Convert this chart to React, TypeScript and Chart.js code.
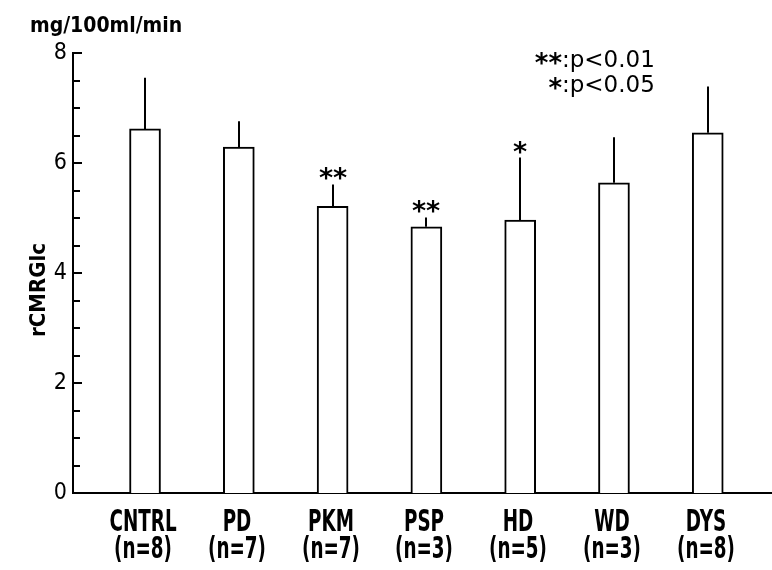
import React, { useEffect, useRef } from "react";
import { Chart, registerables } from "chart.js";

Chart.register(...registerables);

const groups = ["CNTRL", "PD", "PKM", "PSP", "HD", "WD", "DYS"];
const counts = ["(n=8)", "(n=7)", "(n=7)", "(n=3)", "(n=5)", "(n=3)", "(n=8)"];
const means = [6.62, 6.29, 5.21, 4.84, 4.96, 5.64, 6.55];
const sds = [0.93, 0.47, 0.4, 0.17, 1.14, 0.83, 0.84];
const marks = ["", "", "**", "**", "*", "", ""];
const yLabelTicks = [0, 2, 4, 6, 8];
const legendMarks = ["**", "*"];
const legendTexts = [":p<0.01", ":p<0.05"];
const unitText = "mg/100ml/min";
const yTitle = "rCMRGlc";

const CF = "'DejaVu Sans Condensed', 'DejaVu Sans', sans-serif";

function narrowText(ctx: any, text: string, x: number, y: number, font: string, sx: number) {
  ctx.save();
  ctx.font = font;
  ctx.translate(x, y);
  ctx.scale(sx, 1);
  ctx.textAlign = "center";
  ctx.textBaseline = "alphabetic";
  ctx.fillText(text, 0, 0);
  ctx.restore();
}

const extras = {
  id: "extras",
  afterDatasetsDraw(chart: any) {
    const ctx = chart.ctx;
    const xs = chart.scales.x;
    const ys = chart.scales.y;
    ctx.save();
    ctx.strokeStyle = "#000";
    ctx.fillStyle = "#000";
    ctx.lineWidth = 2;
    means.forEach((m, i) => {
      const x = Math.round(xs.getPixelForValue(i));
      const y1 = ys.getPixelForValue(m);
      const y2 = ys.getPixelForValue(m + sds[i]);
      ctx.beginPath();
      ctx.moveTo(x, y1);
      ctx.lineTo(x, y2);
      ctx.stroke();
      if (marks[i]) {
        ctx.font = "bold 27px 'DejaVu Sans', sans-serif";
        ctx.textAlign = "center";
        ctx.textBaseline = "alphabetic";
        ctx.fillText(marks[i], x, y2 + 3);
      }
      narrowText(ctx, groups[i], x - 2, 531, "bold 30px " + CF, 0.68);
      narrowText(ctx, counts[i], x - 2, 558, "bold 30px " + CF, 0.68);
    });
    const left = chart.chartArea.left;
    ys.ticks.forEach((t: any) => {
      const y = Math.round(ys.getPixelForValue(t.value));
      const len = yLabelTicks.includes(t.value) ? 9 : 7;
      ctx.beginPath();
      ctx.lineWidth = 2;
      ctx.moveTo(left, y);
      ctx.lineTo(left + len, y);
      ctx.stroke();
    });
    ctx.textAlign = "left";
    ctx.textBaseline = "alphabetic";
    ctx.font = "bold 21px " + CF;
    ctx.fillText(unitText, 30, 32);
    ctx.save();
    ctx.translate(45, 290);
    ctx.rotate(-Math.PI / 2);
    ctx.textAlign = "center";
    ctx.font = "bold 22px " + CF;
    ctx.fillText(yTitle, 0, 0);
    ctx.restore();
    const lx = 562;
    const baselines = [67, 92];
    legendTexts.forEach((t, k) => {
      ctx.textAlign = "left";
      ctx.font = "23px 'DejaVu Sans', sans-serif";
      ctx.fillText(t, lx, baselines[k]);
      ctx.textAlign = "right";
      ctx.font = "bold 26px 'DejaVu Sans', sans-serif";
      ctx.fillText(legendMarks[k], lx, baselines[k] + 5);
    });
    ctx.restore();
  },
};

export default function App() {
  const ref = useRef<HTMLCanvasElement>(null);
  useEffect(() => {
    if (!ref.current) return;
    const chart = new Chart(ref.current, {
      type: "bar",
      data: {
        datasets: [
          {
            data: means.map((m, i) => ({ x: i, y: m })) as any,
            backgroundColor: "#fff",
            borderColor: "#000",
            borderWidth: 2,
            barThickness: 31,
          },
        ],
      },
      options: {
        responsive: false,
        animation: false,
        layout: { padding: { top: 53, left: 0, right: 0, bottom: 0 } },
        plugins: { legend: { display: false }, tooltip: { enabled: false } },
        scales: {
          x: {
            type: "linear",
            offset: false,
            min: -0.768,
            max: 6.685,
            afterFit: (s: any) => {
              s.height = 77;
            },
            afterBuildTicks: (s: any) => {
              s.ticks = groups.map((_, i) => ({ value: i }));
            },
            grid: { display: false, offset: false, drawTicks: false },
            border: { display: true, color: "#000", width: 2 },
            ticks: { display: false },
          },
          y: {
            min: 0,
            max: 8,
            afterFit: (s: any) => {
              s.width = 73;
            },
            grid: { display: false, drawTicks: false },
            border: { display: true, color: "#000", width: 2 },
            ticks: {
              stepSize: 0.5,
              autoSkip: false,
              padding: 6,
              color: "#000",
              font: { family: CF, size: 23 },
              callback: (v: any) => (yLabelTicks.includes(Number(v)) ? String(v) : ""),
            },
          },
        },
      },
      plugins: [extras],
    });
    return () => chart.destroy();
  }, []);
  return (
    <div style={{ position: "fixed", left: 0, top: 0, width: 772, height: 570, background: "#fff" }}>
      <canvas ref={ref} width={772} height={570} />
    </div>
  );
}
